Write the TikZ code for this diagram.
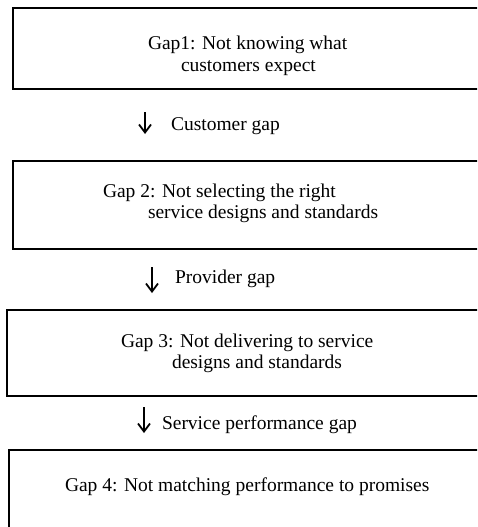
\documentclass[tikz,border=0pt]{standalone}
\usepackage{fontspec}
\setmainfont{Liberation Serif}
\usetikzlibrary{arrows.meta}
\begin{document}
\begin{tikzpicture}[x=1pt,y=-1pt,
  gapbox/.style={draw=black,line width=1.5pt},
  txt/.style={anchor=base west,inner sep=0pt,outer sep=0pt,font=\fontsize{19.5}{21}\selectfont},
  gaparrow/.style={line width=1.8pt,-{Straight Barb[length=8pt,width=12pt,line width=1.8pt]}}]
\useasboundingbox (0,0) rectangle (477,527);
\clip (0,0) rectangle (477,527);
% boxes (right and lower edges run off the page)
\draw[gapbox] (13,8) rectangle (492,89);
\draw[gapbox] (13,161) rectangle (492,249);
\draw[gapbox] (7,310) rectangle (492,396);
\draw[gapbox] (9,450) rectangle (492,545);
% box texts
\node[txt] (g1a) at (148,49) {Gap1: Not knowing what};
\node[txt] (g1b) at (181,71) {customers expect};
\node[txt] (g2a) at (103,197) {Gap 2: Not selecting the right};
\node[txt] (g2b) at (148,218) {service designs and standards};
\node[txt] (g3a) at (121,347) {Gap 3: Not delivering to service};
\node[txt] (g3b) at (172,368) {designs and standards};
\node[txt] (g4a) at (65,491) {Gap 4: Not matching performance to promises};
% arrows between boxes with their labels
\coordinate (a1s) at (145,112); \coordinate (a1e) at (145,134);
\coordinate (a2s) at (152,267); \coordinate (a2e) at (152,293);
\coordinate (a3s) at (144,407); \coordinate (a3e) at (144,433);
\draw[gaparrow] (a1s) -- (a1e);
\draw[gaparrow] (a2s) -- (a2e);
\draw[gaparrow] (a3s) -- (a3e);
\node[txt] (l1) at (171,130) {Customer gap};
\node[txt] (l2) at (175,283) {Provider gap};
\node[txt] (l3) at (162,429) {Service performance gap};
\end{tikzpicture}
\end{document}
